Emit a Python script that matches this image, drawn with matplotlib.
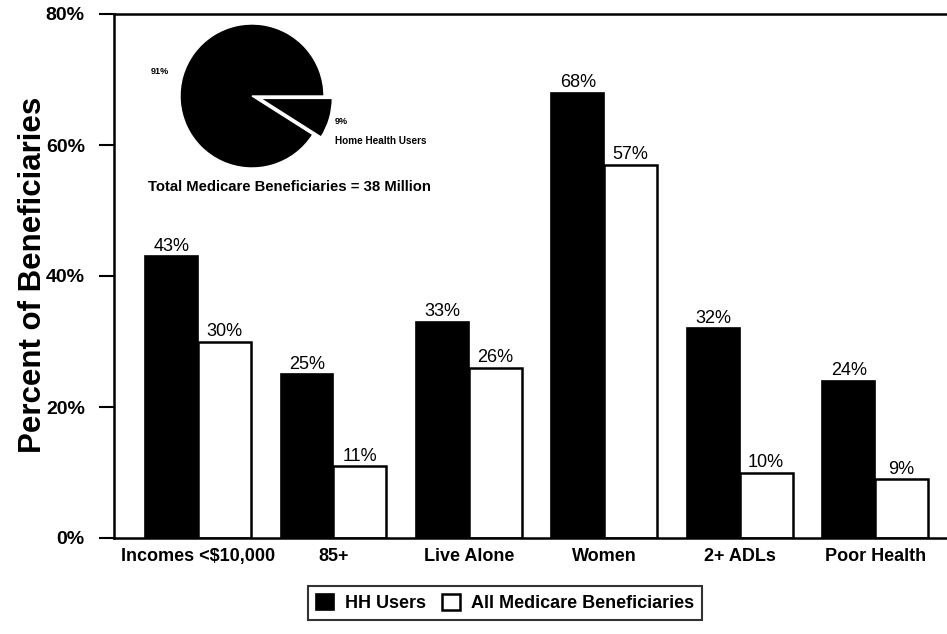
import matplotlib
matplotlib.use("Agg")
import matplotlib.pyplot as plt
import numpy as np

plt.rcParams['font.family'] = ['Liberation Sans', 'DejaVu Sans']

categories = ["Incomes <$10,000", "85+", "Live Alone", "Women", "2+ ADLs", "Poor Health"]
hh_users = [43, 25, 33, 68, 32, 24]
all_benef = [30, 11, 26, 57, 10, 9]
series_names = ["HH Users", "All Medicare Beneficiaries"]
yticks = [0, 20, 40, 60, 80]
pie_values = [9, 91]
pie_labels = ["9%", "91%"]

W, H = 947, 634
fig = plt.figure(figsize=(W / 100, H / 100), dpi=100)
ax = fig.add_axes([114 / W, 1 - 538 / H, (W - 114) / W, (538 - 14) / H])

x = np.arange(len(categories))
bw = 0.39
b1 = ax.bar(x - bw / 2, hh_users, bw, color="black", edgecolor="black", linewidth=1.2, label=series_names[0])
b2 = ax.bar(x + bw / 2, all_benef, bw, color="white", edgecolor="black", linewidth=1.8, label=series_names[1])

for bars, vals in ((b1, hh_users), (b2, all_benef)):
    for r, v in zip(bars, vals):
        ax.annotate(f"{v}%", (r.get_x() + r.get_width() / 2, v), xytext=(0, 1),
                    textcoords="offset points", ha="center", va="bottom", fontsize=13)

ax.set_xlim(-0.62, len(categories) - 1 + 0.53)
ax.set_ylim(0, 80)
ax.set_yticks(yticks)
ax.set_yticklabels([f"{t}%" for t in yticks], fontsize=14, fontweight="bold")
ax.set_xticks(x)
ax.set_xticklabels(categories, fontsize=13, fontweight="bold")
ax.tick_params(axis="x", length=0, pad=7)
ax.tick_params(axis="y", direction="out", length=11, width=1.5, pad=10)
for s in ("left", "bottom", "top"):
    ax.spines[s].set_linewidth(1.8)
ax.spines["right"].set_visible(False)
ax.set_ylabel("Percent of Beneficiaries", fontsize=22.5, fontweight="bold")
ax.yaxis.set_label_coords(48 / W, 1 - 275 / H, transform=fig.transFigure)

leg = ax.legend(loc="center", bbox_to_anchor=(505 / W, 1 - 603 / H), bbox_transform=fig.transFigure,
                ncol=2, frameon=True, fancybox=False, edgecolor="black",
                prop={"weight": "bold", "size": 13}, handlelength=1.0, handleheight=1.0,
                handletextpad=0.6, columnspacing=0.9, borderpad=0.45)
leg.get_frame().set_linewidth(1.5)

# Inset pie
cx, cy, R = 252, 96, 72
box = 90
pax = fig.add_axes([(cx - box) / W, 1 - (cy + box) / H, 2 * box / W, 2 * box / H])
pax.pie(pie_values, radius=1.0, startangle=-32.4, counterclock=True,
        explode=[0.12, 0], colors=["black", "black"],
        wedgeprops=dict(edgecolor="white", linewidth=1.0))
pax.set_xlim(-box / R, box / R)
pax.set_ylim(-box / R, box / R)
pax.set_aspect("equal")
pax.axis("off")

fig.text(151 / W, 1 - 71 / H, pie_labels[1], fontsize=6.5, fontweight="bold", ha="left", va="center")
fig.text(335 / W, 1 - 122 / H, pie_labels[0], fontsize=6.5, fontweight="bold", ha="left", va="center")
fig.text(335 / W, 1 - 141 / H, "Home Health Users", fontsize=7.2, fontweight="bold", ha="left", va="center")
fig.text(148 / W, 1 - 187 / H, "Total Medicare Beneficiaries = 38 Million", fontsize=10.7,
         fontweight="bold", ha="left", va="center")

fig.savefig("out.png", dpi=100)
